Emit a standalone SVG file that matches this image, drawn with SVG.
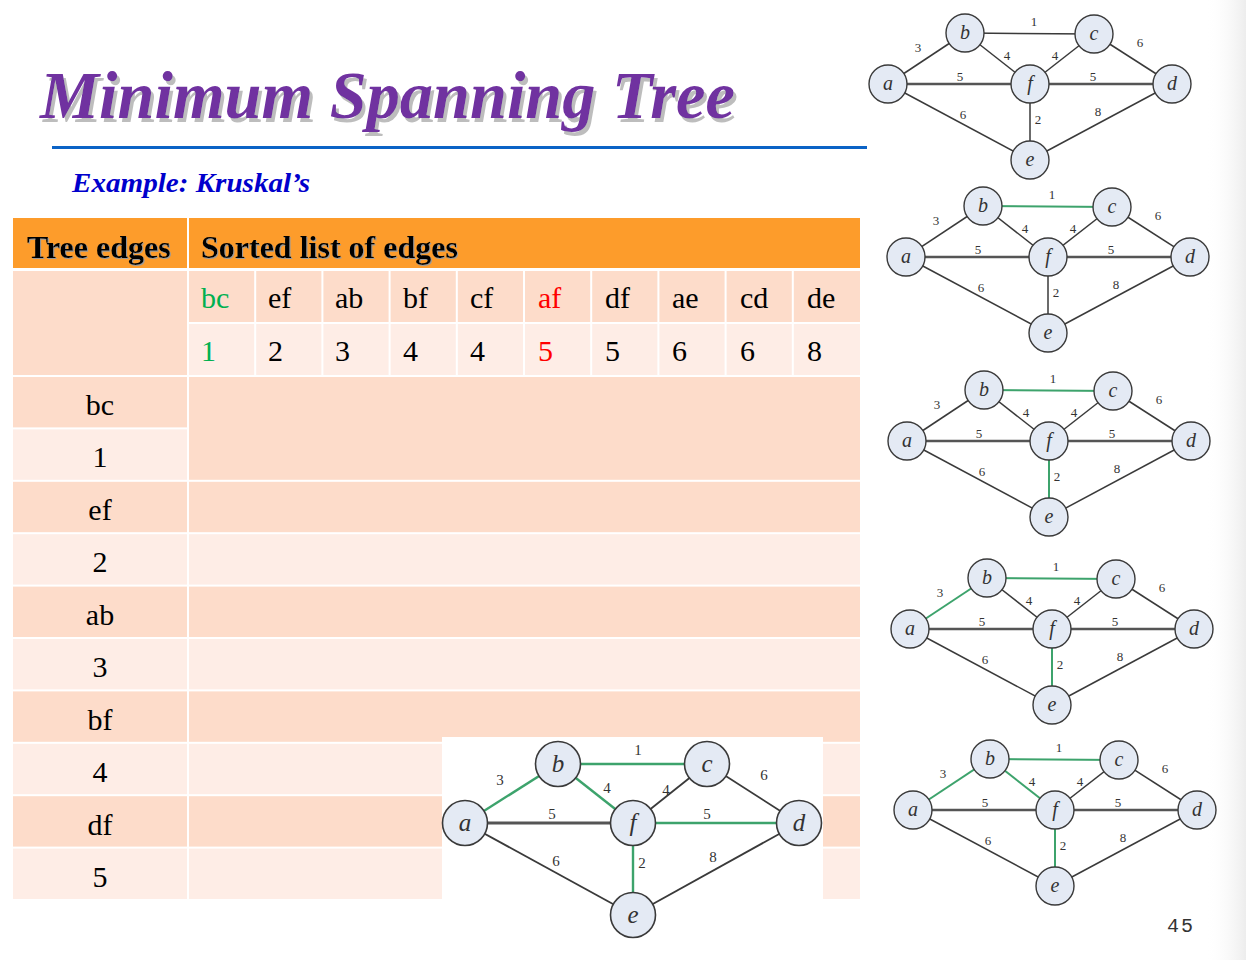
<svg xmlns="http://www.w3.org/2000/svg" width="1246" height="960" viewBox="0 0 1246 960">
  <defs>
    <style>
      .title { font-family: "Liberation Serif", serif; font-weight: bold; font-style: italic; font-size: 68px; }
      .sub { font-family: "Liberation Serif", serif; font-weight: bold; font-style: italic; font-size: 28px; fill: #0000CC; }
      .hd { font-family: "Liberation Serif", serif; font-weight: bold; font-size: 32px; fill: #000; }
      .cell { font-family: "Liberation Serif", serif; font-size: 30px; fill: #000; }
      .ctr { text-anchor: middle; }
      .orange { fill: #FD9C2B; }
      .peach { fill: #FDDCCA; }
      .light { fill: #FEEDE6; }
      .green { fill: #00B050; }
      .red { fill: #FF0000; }
      .edge { stroke: #3a3a3a; stroke-width: 1.5; fill: none; }
      .thick { stroke: #555; stroke-width: 2.4; }
      .tree { stroke: #3DA36C; stroke-width: 2; }
      .node circle { fill: #E4EAF4; stroke: #3a3a3a; stroke-width: 1.4; }
      .nl { font-family: "Liberation Serif", serif; font-style: italic; font-size: 20px; fill: #333; text-anchor: middle; }
      .wl { font-family: "Liberation Serif", serif; font-size: 13px; fill: #333; text-anchor: middle; }
      .big .edge { stroke-width: 1.8; }
      .big .thick { stroke-width: 2.8; }
      .big .tree { stroke-width: 2.4; }
      .big .node circle { stroke-width: 1.6; }
      .big .nl { font-size: 25px; }
      .big .wl { font-size: 15px; }
    </style>
    <linearGradient id="edgeShade" x1="0" y1="0" x2="1" y2="0">
      <stop offset="0" stop-color="#ffffff" stop-opacity="0"/>
      <stop offset="1" stop-color="#ededed"/>
    </linearGradient>
    <filter id="titleShadow" x="-5%" y="-20%" width="110%" height="150%">
      <feOffset in="SourceAlpha" dx="3" dy="4" result="off"/>
      <feFlood flood-color="#BDBDBD"/>
      <feComposite in2="off" operator="in" result="sh"/>
      <feMerge><feMergeNode in="sh"/><feMergeNode in="SourceGraphic"/></feMerge>
    </filter>
    <filter id="headShadow" x="-5%" y="-20%" width="110%" height="150%">
      <feOffset in="SourceAlpha" dx="1.2" dy="1.2" result="off"/>
      <feFlood flood-color="#9a9a9a"/>
      <feComposite in2="off" operator="in" result="sh"/>
      <feMerge><feMergeNode in="sh"/><feMergeNode in="SourceGraphic"/></feMerge>
    </filter>
  </defs>

  <rect width="1246" height="960" fill="#ffffff"/>
  <rect x="1205" y="0" width="41" height="960" fill="url(#edgeShade)"/>

  <!-- heading -->
  <g id="heading">
    <text class="title" x="40" y="118" fill="#7030A0" filter="url(#titleShadow)" textLength="695" lengthAdjust="spacingAndGlyphs">Minimum Spanning Tree</text>
    <rect x="52" y="146" width="815" height="3" fill="#0B63C6"/>
    <text class="sub" x="72" y="192" textLength="238" lengthAdjust="spacingAndGlyphs">Example: Kruskal’s</text>
  </g>

  <!-- table -->
  <g id="table">
    <rect class="orange" x="13" y="218" width="174" height="50"/>
    <rect class="orange" x="189" y="218" width="671" height="50"/>
    <text class="hd" x="27" y="258" filter="url(#headShadow)">Tree edges</text>
    <text class="hd" x="201" y="258" filter="url(#headShadow)">Sorted list of edges</text>

    <!-- sorted list -->
    <rect class="peach" x="13" y="271" width="174" height="104"/>
    <g id="sorted-names">
      <rect class="peach" x="189" y="271" width="65.2" height="51"/>
      <rect class="peach" x="256.2" y="271" width="65.2" height="51"/>
      <rect class="peach" x="323.4" y="271" width="65.2" height="51"/>
      <rect class="peach" x="390.6" y="271" width="65.2" height="51"/>
      <rect class="peach" x="457.8" y="271" width="65.2" height="51"/>
      <rect class="peach" x="525" y="271" width="65.2" height="51"/>
      <rect class="peach" x="592.2" y="271" width="65.2" height="51"/>
      <rect class="peach" x="659.4" y="271" width="65.2" height="51"/>
      <rect class="peach" x="726.6" y="271" width="65.2" height="51"/>
      <rect class="peach" x="793.8" y="271" width="66.2" height="51"/>
      <text class="cell green" x="201" y="308">bc</text>
      <text class="cell" x="268" y="308">ef</text>
      <text class="cell" x="335" y="308">ab</text>
      <text class="cell" x="403" y="308">bf</text>
      <text class="cell" x="470" y="308">cf</text>
      <text class="cell red" x="538" y="308">af</text>
      <text class="cell" x="605" y="308">df</text>
      <text class="cell" x="672" y="308">ae</text>
      <text class="cell" x="740" y="308">cd</text>
      <text class="cell" x="807" y="308">de</text>
    </g>
    <g id="sorted-weights">
      <rect class="light" x="189" y="324" width="65.2" height="51"/>
      <rect class="light" x="256.2" y="324" width="65.2" height="51"/>
      <rect class="light" x="323.4" y="324" width="65.2" height="51"/>
      <rect class="light" x="390.6" y="324" width="65.2" height="51"/>
      <rect class="light" x="457.8" y="324" width="65.2" height="51"/>
      <rect class="light" x="525" y="324" width="65.2" height="51"/>
      <rect class="light" x="592.2" y="324" width="65.2" height="51"/>
      <rect class="light" x="659.4" y="324" width="65.2" height="51"/>
      <rect class="light" x="726.6" y="324" width="65.2" height="51"/>
      <rect class="light" x="793.8" y="324" width="66.2" height="51"/>
      <text class="cell green" x="201" y="361">1</text>
      <text class="cell" x="268" y="361">2</text>
      <text class="cell" x="335" y="361">3</text>
      <text class="cell" x="403" y="361">4</text>
      <text class="cell" x="470" y="361">4</text>
      <text class="cell red" x="538" y="361">5</text>
      <text class="cell" x="605" y="361">5</text>
      <text class="cell" x="672" y="361">6</text>
      <text class="cell" x="740" y="361">6</text>
      <text class="cell" x="807" y="361">8</text>
    </g>

    <!-- tree edge rows -->
    <g id="tree-rows">
      <rect class="peach" x="13" y="377" width="174" height="50.4"/>
      <rect class="light" x="13" y="429.4" width="174" height="50.4"/>
      <rect class="peach" x="13" y="481.8" width="174" height="50.4"/>
      <rect class="light" x="13" y="534.2" width="174" height="50.4"/>
      <rect class="peach" x="13" y="586.6" width="174" height="50.4"/>
      <rect class="light" x="13" y="639" width="174" height="50.4"/>
      <rect class="peach" x="13" y="691.4" width="174" height="50.4"/>
      <rect class="light" x="13" y="743.8" width="174" height="50.4"/>
      <rect class="peach" x="13" y="796.2" width="174" height="50.4"/>
      <rect class="light" x="13" y="848.6" width="174" height="50.4"/>

      <rect class="peach" x="189" y="377" width="671" height="102.8"/>
      <rect class="peach" x="189" y="481.8" width="671" height="50.4"/>
      <rect class="light" x="189" y="534.2" width="671" height="50.4"/>
      <rect class="peach" x="189" y="586.6" width="671" height="50.4"/>
      <rect class="light" x="189" y="639" width="671" height="50.4"/>
      <rect class="peach" x="189" y="691.4" width="671" height="50.4"/>
      <rect class="light" x="189" y="743.8" width="671" height="50.4"/>
      <rect class="peach" x="189" y="796.2" width="671" height="50.4"/>
      <rect class="light" x="189" y="848.6" width="671" height="50.4"/>

      <text class="cell ctr" x="100" y="415">bc</text>
      <text class="cell ctr" x="100" y="467">1</text>
      <text class="cell ctr" x="100" y="520">ef</text>
      <text class="cell ctr" x="100" y="572">2</text>
      <text class="cell ctr" x="100" y="625">ab</text>
      <text class="cell ctr" x="100" y="677">3</text>
      <text class="cell ctr" x="100" y="730">bf</text>
      <text class="cell ctr" x="100" y="782">4</text>
      <text class="cell ctr" x="100" y="835">df</text>
      <text class="cell ctr" x="100" y="887">5</text>
    </g>
  </g>

  <!-- graph 1: original weighted graph -->
  <g id="graph1" transform="translate(888,84)">
    <g id="graph1-edges">
      <line class="edge" x1="0" y1="0" x2="77" y2="-51"/>
      <line class="edge" x1="77" y1="-51" x2="206" y2="-50"/>
      <line class="edge" x1="77" y1="-51" x2="142" y2="0"/>
      <line class="edge" x1="206" y1="-50" x2="142" y2="0"/>
      <line class="edge" x1="206" y1="-50" x2="284" y2="0"/>
      <line class="edge thick" x1="0" y1="0" x2="142" y2="0"/>
      <line class="edge thick" x1="142" y1="0" x2="284" y2="0"/>
      <line class="edge" x1="142" y1="0" x2="142" y2="76"/>
      <line class="edge" x1="0" y1="0" x2="142" y2="76"/>
      <line class="edge" x1="284" y1="0" x2="142" y2="76"/>
      <text class="wl" x="146" y="-58">1</text>
      <text class="wl" x="30" y="-32">3</text>
      <text class="wl" x="119" y="-24">4</text>
      <text class="wl" x="167" y="-24">4</text>
      <text class="wl" x="252" y="-37">6</text>
      <text class="wl" x="72" y="-3">5</text>
      <text class="wl" x="205" y="-3">5</text>
      <text class="wl" x="150" y="40">2</text>
      <text class="wl" x="75" y="35">6</text>
      <text class="wl" x="210" y="32">8</text>
    </g>
    <g id="g1-a" class="node"><circle cx="0" cy="0" r="19"/><text class="nl" x="0" y="6">a</text></g>
    <g id="g1-b" class="node"><circle cx="77" cy="-51" r="19"/><text class="nl" x="77" y="-45">b</text></g>
    <g id="g1-c" class="node"><circle cx="206" cy="-50" r="19"/><text class="nl" x="206" y="-44">c</text></g>
    <g id="g1-f" class="node"><circle cx="142" cy="0" r="19"/><text class="nl" x="142" y="6">f</text></g>
    <g id="g1-d" class="node"><circle cx="284" cy="0" r="19"/><text class="nl" x="284" y="6">d</text></g>
    <g id="g1-e" class="node"><circle cx="142" cy="76" r="19"/><text class="nl" x="142" y="82">e</text></g>
  </g>

  <!-- graph 2: bc chosen -->
  <g id="graph2" transform="translate(906,257)">
    <g id="graph2-edges">
      <line class="edge" x1="0" y1="0" x2="77" y2="-51"/>
      <line class="edge tree" x1="77" y1="-51" x2="206" y2="-50"/>
      <line class="edge" x1="77" y1="-51" x2="142" y2="0"/>
      <line class="edge" x1="206" y1="-50" x2="142" y2="0"/>
      <line class="edge" x1="206" y1="-50" x2="284" y2="0"/>
      <line class="edge thick" x1="0" y1="0" x2="142" y2="0"/>
      <line class="edge thick" x1="142" y1="0" x2="284" y2="0"/>
      <line class="edge" x1="142" y1="0" x2="142" y2="76"/>
      <line class="edge" x1="0" y1="0" x2="142" y2="76"/>
      <line class="edge" x1="284" y1="0" x2="142" y2="76"/>
      <text class="wl" x="146" y="-58">1</text>
      <text class="wl" x="30" y="-32">3</text>
      <text class="wl" x="119" y="-24">4</text>
      <text class="wl" x="167" y="-24">4</text>
      <text class="wl" x="252" y="-37">6</text>
      <text class="wl" x="72" y="-3">5</text>
      <text class="wl" x="205" y="-3">5</text>
      <text class="wl" x="150" y="40">2</text>
      <text class="wl" x="75" y="35">6</text>
      <text class="wl" x="210" y="32">8</text>
    </g>
    <g id="g2-a" class="node"><circle cx="0" cy="0" r="19"/><text class="nl" x="0" y="6">a</text></g>
    <g id="g2-b" class="node"><circle cx="77" cy="-51" r="19"/><text class="nl" x="77" y="-45">b</text></g>
    <g id="g2-c" class="node"><circle cx="206" cy="-50" r="19"/><text class="nl" x="206" y="-44">c</text></g>
    <g id="g2-f" class="node"><circle cx="142" cy="0" r="19"/><text class="nl" x="142" y="6">f</text></g>
    <g id="g2-d" class="node"><circle cx="284" cy="0" r="19"/><text class="nl" x="284" y="6">d</text></g>
    <g id="g2-e" class="node"><circle cx="142" cy="76" r="19"/><text class="nl" x="142" y="82">e</text></g>
  </g>

  <!-- graph 3: bc, ef chosen -->
  <g id="graph3" transform="translate(907,441)">
    <g id="graph3-edges">
      <line class="edge" x1="0" y1="0" x2="77" y2="-51"/>
      <line class="edge tree" x1="77" y1="-51" x2="206" y2="-50"/>
      <line class="edge" x1="77" y1="-51" x2="142" y2="0"/>
      <line class="edge" x1="206" y1="-50" x2="142" y2="0"/>
      <line class="edge" x1="206" y1="-50" x2="284" y2="0"/>
      <line class="edge thick" x1="0" y1="0" x2="142" y2="0"/>
      <line class="edge thick" x1="142" y1="0" x2="284" y2="0"/>
      <line class="edge tree" x1="142" y1="0" x2="142" y2="76"/>
      <line class="edge" x1="0" y1="0" x2="142" y2="76"/>
      <line class="edge" x1="284" y1="0" x2="142" y2="76"/>
      <text class="wl" x="146" y="-58">1</text>
      <text class="wl" x="30" y="-32">3</text>
      <text class="wl" x="119" y="-24">4</text>
      <text class="wl" x="167" y="-24">4</text>
      <text class="wl" x="252" y="-37">6</text>
      <text class="wl" x="72" y="-3">5</text>
      <text class="wl" x="205" y="-3">5</text>
      <text class="wl" x="150" y="40">2</text>
      <text class="wl" x="75" y="35">6</text>
      <text class="wl" x="210" y="32">8</text>
    </g>
    <g id="g3-a" class="node"><circle cx="0" cy="0" r="19"/><text class="nl" x="0" y="6">a</text></g>
    <g id="g3-b" class="node"><circle cx="77" cy="-51" r="19"/><text class="nl" x="77" y="-45">b</text></g>
    <g id="g3-c" class="node"><circle cx="206" cy="-50" r="19"/><text class="nl" x="206" y="-44">c</text></g>
    <g id="g3-f" class="node"><circle cx="142" cy="0" r="19"/><text class="nl" x="142" y="6">f</text></g>
    <g id="g3-d" class="node"><circle cx="284" cy="0" r="19"/><text class="nl" x="284" y="6">d</text></g>
    <g id="g3-e" class="node"><circle cx="142" cy="76" r="19"/><text class="nl" x="142" y="82">e</text></g>
  </g>

  <!-- graph 4: bc, ef, ab chosen -->
  <g id="graph4" transform="translate(910,629)">
    <g id="graph4-edges">
      <line class="edge tree" x1="0" y1="0" x2="77" y2="-51"/>
      <line class="edge tree" x1="77" y1="-51" x2="206" y2="-50"/>
      <line class="edge" x1="77" y1="-51" x2="142" y2="0"/>
      <line class="edge" x1="206" y1="-50" x2="142" y2="0"/>
      <line class="edge" x1="206" y1="-50" x2="284" y2="0"/>
      <line class="edge thick" x1="0" y1="0" x2="142" y2="0"/>
      <line class="edge thick" x1="142" y1="0" x2="284" y2="0"/>
      <line class="edge tree" x1="142" y1="0" x2="142" y2="76"/>
      <line class="edge" x1="0" y1="0" x2="142" y2="76"/>
      <line class="edge" x1="284" y1="0" x2="142" y2="76"/>
      <text class="wl" x="146" y="-58">1</text>
      <text class="wl" x="30" y="-32">3</text>
      <text class="wl" x="119" y="-24">4</text>
      <text class="wl" x="167" y="-24">4</text>
      <text class="wl" x="252" y="-37">6</text>
      <text class="wl" x="72" y="-3">5</text>
      <text class="wl" x="205" y="-3">5</text>
      <text class="wl" x="150" y="40">2</text>
      <text class="wl" x="75" y="35">6</text>
      <text class="wl" x="210" y="32">8</text>
    </g>
    <g id="g4-a" class="node"><circle cx="0" cy="0" r="19"/><text class="nl" x="0" y="6">a</text></g>
    <g id="g4-b" class="node"><circle cx="77" cy="-51" r="19"/><text class="nl" x="77" y="-45">b</text></g>
    <g id="g4-c" class="node"><circle cx="206" cy="-50" r="19"/><text class="nl" x="206" y="-44">c</text></g>
    <g id="g4-f" class="node"><circle cx="142" cy="0" r="19"/><text class="nl" x="142" y="6">f</text></g>
    <g id="g4-d" class="node"><circle cx="284" cy="0" r="19"/><text class="nl" x="284" y="6">d</text></g>
    <g id="g4-e" class="node"><circle cx="142" cy="76" r="19"/><text class="nl" x="142" y="82">e</text></g>
  </g>

  <!-- graph 5: bc, ef, ab, bf chosen -->
  <g id="graph5" transform="translate(913,810)">
    <g id="graph5-edges">
      <line class="edge tree" x1="0" y1="0" x2="77" y2="-51"/>
      <line class="edge tree" x1="77" y1="-51" x2="206" y2="-50"/>
      <line class="edge tree" x1="77" y1="-51" x2="142" y2="0"/>
      <line class="edge" x1="206" y1="-50" x2="142" y2="0"/>
      <line class="edge" x1="206" y1="-50" x2="284" y2="0"/>
      <line class="edge thick" x1="0" y1="0" x2="142" y2="0"/>
      <line class="edge thick" x1="142" y1="0" x2="284" y2="0"/>
      <line class="edge tree" x1="142" y1="0" x2="142" y2="76"/>
      <line class="edge" x1="0" y1="0" x2="142" y2="76"/>
      <line class="edge" x1="284" y1="0" x2="142" y2="76"/>
      <text class="wl" x="146" y="-58">1</text>
      <text class="wl" x="30" y="-32">3</text>
      <text class="wl" x="119" y="-24">4</text>
      <text class="wl" x="167" y="-24">4</text>
      <text class="wl" x="252" y="-37">6</text>
      <text class="wl" x="72" y="-3">5</text>
      <text class="wl" x="205" y="-3">5</text>
      <text class="wl" x="150" y="40">2</text>
      <text class="wl" x="75" y="35">6</text>
      <text class="wl" x="210" y="32">8</text>
    </g>
    <g id="g5-a" class="node"><circle cx="0" cy="0" r="19"/><text class="nl" x="0" y="6">a</text></g>
    <g id="g5-b" class="node"><circle cx="77" cy="-51" r="19"/><text class="nl" x="77" y="-45">b</text></g>
    <g id="g5-c" class="node"><circle cx="206" cy="-50" r="19"/><text class="nl" x="206" y="-44">c</text></g>
    <g id="g5-f" class="node"><circle cx="142" cy="0" r="19"/><text class="nl" x="142" y="6">f</text></g>
    <g id="g5-d" class="node"><circle cx="284" cy="0" r="19"/><text class="nl" x="284" y="6">d</text></g>
    <g id="g5-e" class="node"><circle cx="142" cy="76" r="19"/><text class="nl" x="142" y="82">e</text></g>
  </g>

  <!-- graph 6: finished spanning tree, drawn on a white panel over the table -->
  <rect x="442" y="737" width="381" height="205" fill="#ffffff"/>
  <g id="graph6" class="big">
    <g id="graph6-edges">
      <line class="edge tree" x1="465" y1="823" x2="558" y2="764"/>
      <line class="edge tree" x1="558" y1="764" x2="707" y2="764"/>
      <line class="edge tree" x1="558" y1="764" x2="633" y2="823"/>
      <line class="edge" x1="707" y1="764" x2="633" y2="823"/>
      <line class="edge" x1="707" y1="764" x2="799" y2="823"/>
      <line class="edge thick" x1="465" y1="823" x2="633" y2="823"/>
      <line class="edge tree" x1="633" y1="823" x2="799" y2="823"/>
      <line class="edge tree" x1="633" y1="823" x2="633" y2="915"/>
      <line class="edge" x1="465" y1="823" x2="633" y2="915"/>
      <line class="edge" x1="799" y1="823" x2="633" y2="915"/>
      <text class="wl" x="638" y="755">1</text>
      <text class="wl" x="500" y="785">3</text>
      <text class="wl" x="607" y="793">4</text>
      <text class="wl" x="666" y="795">4</text>
      <text class="wl" x="764" y="780">6</text>
      <text class="wl" x="552" y="819">5</text>
      <text class="wl" x="707" y="819">5</text>
      <text class="wl" x="642" y="868">2</text>
      <text class="wl" x="556" y="866">6</text>
      <text class="wl" x="713" y="862">8</text>
    </g>
    <g id="g6-a" class="node"><circle cx="465" cy="823" r="22.5"/><text class="nl" x="465" y="831">a</text></g>
    <g id="g6-b" class="node"><circle cx="558" cy="764" r="22.5"/><text class="nl" x="558" y="772">b</text></g>
    <g id="g6-c" class="node"><circle cx="707" cy="764" r="22.5"/><text class="nl" x="707" y="772">c</text></g>
    <g id="g6-f" class="node"><circle cx="633" cy="823" r="22.5"/><text class="nl" x="633" y="831">f</text></g>
    <g id="g6-d" class="node"><circle cx="799" cy="823" r="22.5"/><text class="nl" x="799" y="831">d</text></g>
    <g id="g6-e" class="node"><circle cx="633" cy="915" r="22.5"/><text class="nl" x="633" y="923">e</text></g>
  </g>

  <!-- slide number -->
  <text x="1167" y="932" font-family="'Liberation Mono', monospace" font-size="20" letter-spacing="2" fill="#333">45</text>
</svg>
